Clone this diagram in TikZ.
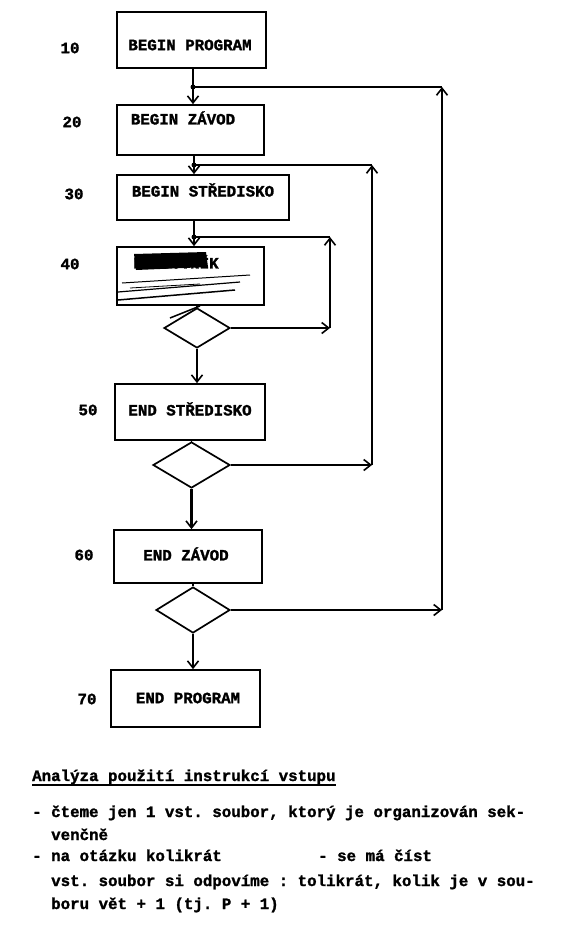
\documentclass[tikz,border=0pt]{standalone}
\usepackage{fontspec}
\setmonofont{Liberation Mono}
\usetikzlibrary{shapes.geometric,arrows.meta,calc}
\newfontfamily\tw[RawFeature={embolden=1.5}]{Liberation Mono Bold}
\frenchspacing
\tikzset{
  box/.style={draw,line width=1.7pt,rectangle,inner sep=0pt},
  dia/.style={draw,line width=1.7pt,diamond,inner sep=0pt},
  lbl/.style={font=\tw\fontsize{15.8}{18}\selectfont,inner sep=0pt},
  num/.style={font=\tw\fontsize{15.8}{18}\selectfont,inner sep=0pt},
  txt/.style={font=\tw\fontsize{15.8}{18}\selectfont,inner sep=0pt,anchor=base west},
  flow/.style={line width=1.8pt},
  arr/.style={line width=1.8pt,-{Straight Barb[length=7pt,width=11pt,line width=1.6pt]}},
  jdot/.style={circle,fill,inner sep=0pt,minimum size=5pt}
}
\begin{document}
\begin{tikzpicture}[x=1pt,y=-1pt]
\useasboundingbox (0,0) rectangle (563,932);
% boxes
\node[box,minimum width=149pt,minimum height=56pt] (b10) at (191.5,40) {};
\node[box,minimum width=147pt,minimum height=50pt] (b20) at (190.5,130) {};
\node[box,minimum width=172pt,minimum height=45pt] (b30) at (203,197.5) {};
\node[box,minimum width=147pt,minimum height=58pt] (b40) at (190.5,276) {};
\node[box,minimum width=150pt,minimum height=56pt] (b50) at (190,412) {};
\node[box,minimum width=148pt,minimum height=53pt] (b60) at (188,556.5) {};
\node[box,minimum width=149pt,minimum height=57pt] (b70) at (185.5,698.5) {};
% diamonds
\node[dia,minimum width=66pt,minimum height=40pt] (d1) at (197,328) {};
\node[dia,minimum width=77pt,minimum height=46pt] (d2) at (191.5,465) {};
\node[dia,minimum width=74pt,minimum height=46pt] (d3) at (193,610) {};
% box texts
\node[lbl] (t10) at (190,45) {BEGIN PROGRAM};
\node[lbl] (t20) at (183,118) {BEGIN ZÁVOD};
\node[lbl] (t30) at (203,190) {BEGIN STŘEDISKO};
\node[lbl] (t40) at (176,262) {PRACOVNÍK};
\node[lbl] (t50) at (190,409) {END STŘEDISKO};
\node[lbl] (t60) at (186,554) {END ZÁVOD};
\node[lbl] (t70) at (188,698) {END PROGRAM};
% scribble over box 40
\fill (134,254) -- (206,252) -- (208,267) -- (136,270) -- cycle;
\draw[line width=1pt] (122,283) -- (250,275);
\draw[line width=1.2pt] (118,292) -- (240,282);
\draw[line width=1.5pt] (118,300) -- (235,290);
\draw[line width=0.8pt] (130,288) -- (200,284);
\draw[line width=1.5pt] (170,318) -- (200,306);
% line numbers
\node[num] (n10) at (70,48) {10};
\node[num] (n20) at (72,122) {20};
\node[num] (n30) at (74,194) {30};
\node[num] (n40) at (70,264) {40};
\node[num] (n50) at (88,410) {50};
\node[num] (n60) at (84,555) {60};
\node[num] (n70) at (87,699) {70};
% junctions
\coordinate (j1) at (193,87);
\coordinate (j2) at (194,165);
\coordinate (j3) at (194,237);
\node[jdot] at (j1) {};
\node[jdot] at (j2) {};
\node[jdot] at (j3) {};
% main spine
\draw[flow] (j1 |- b10.south) -- (j1);
\draw[arr] (j1) -- (j1 |- b20.north);
\draw[flow] (j2 |- b20.south) -- (j2);
\draw[arr] (j2) -- (j2 |- b30.north);
\draw[flow] (j3 |- b30.south) -- (j3);
\draw[arr] (j3) -- (j3 |- b40.north);
\draw[flow] (d1.north |- b40.south) -- (d1.north);
\draw[arr] (d1.south) -- (d1.south |- b50.north);
\draw[flow] (d2.north |- b50.south) -- (d2.north);
\draw[arr,line width=2.6pt] (d2.south) -- (d2.south |- b60.north);
\draw[flow] (d3.north |- b60.south) -- (d3.north);
\draw[arr] (d3.south) -- (d3.south |- b70.north);
% loops
\coordinate (i1) at (330,328);
\coordinate (i2) at (330,237);
\draw[arr] (d1.east) -- (i1);
\draw[arr] (i1) -- (i2);
\draw[flow] (i2) -- (j3);
\coordinate (m1) at (372,465);
\coordinate (m2) at (372,165);
\draw[arr] (d2.east) -- (m1);
\draw[arr] (m1) -- (m2);
\draw[flow] (m2) -- (j2);
\coordinate (o1) at (442,610);
\coordinate (o2) at (442,87);
\draw[arr] (d3.east) -- (o1);
\draw[arr] (o1) -- (o2);
\draw[flow] (o2) -- (j1);
% bottom text
\node[txt] (h1) at (32,781) {Analýza použití instrukcí vstupu};
\draw[line width=1.4pt] ($(h1.base west)+(0,4)$) -- ($(h1.base east)+(0,4)$);
\node[txt] (l2) at (32,817) {- čteme jen 1 vst. soubor, ktorý je organizován sek-};
\node[txt] (l3) at (51,840) {venčně};
\node[txt] (l4) at (32,861) {- na otázku kolikrát};
\node[txt] (l4b) at (318,861) {- se má číst};
\node[txt] (l5) at (51,886) {vst. soubor si odpovíme : tolikrát, kolik je v sou-};
\node[txt] (l6) at (51,909) {boru vět + 1 (tj. P + 1)};
\end{tikzpicture}
\end{document}
